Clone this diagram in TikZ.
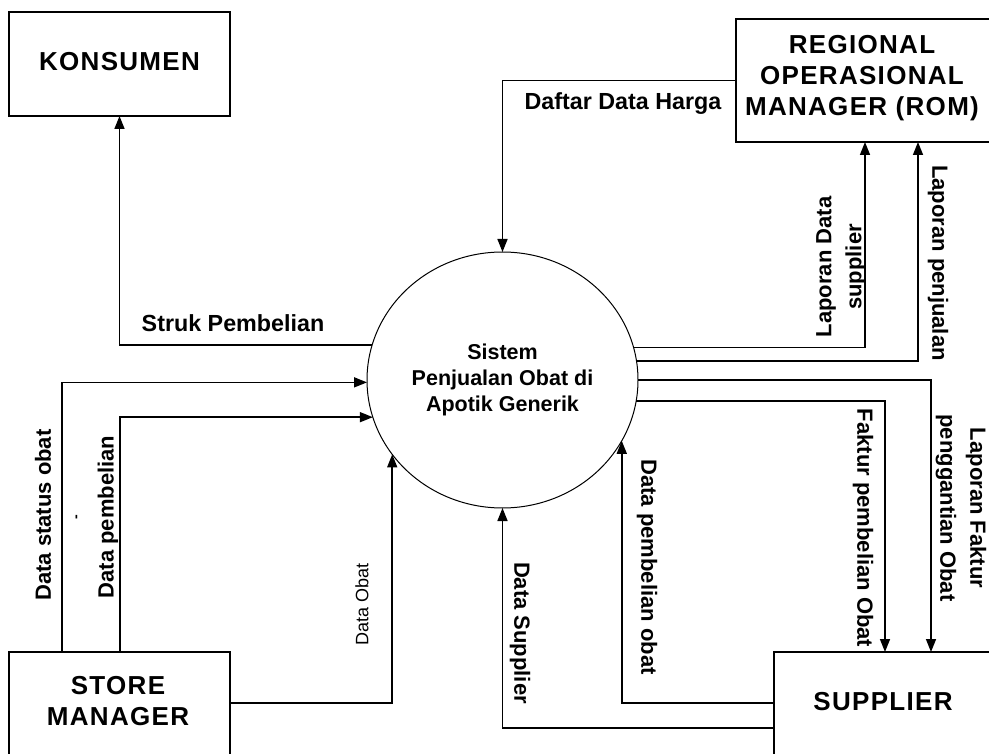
\documentclass[tikz,border=0pt]{standalone}
\usepackage{fontspec}
\setmainfont{Liberation Sans}
\newfontfamily\titlefont[LetterSpace=5]{Liberation Sans}
\usetikzlibrary{arrows.meta,shapes.geometric}

\begin{document}
\begin{tikzpicture}[x=1pt,y=-1pt,
  ent/.style={draw, line width=1.5pt, inner sep=0pt, outer sep=0pt},
  enttext/.style={font=\titlefont\bfseries\fontsize{26}{31}\selectfont, align=center, inner sep=0pt},
  proc/.style={draw, ellipse, line width=1pt, inner sep=0pt, outer sep=0pt,
    minimum width=271pt, minimum height=256pt, align=center,
    font=\bfseries\fontsize{21.5}{26}\selectfont},
  flow/.style={line width=1.5pt, -{Triangle[length=13pt,width=10pt]}},
  lbl/.style={font=\bfseries\fontsize{22}{30}\selectfont, inner sep=0pt, align=center},
  hlbl/.style={font=\bfseries\fontsize{23.3}{28}\selectfont, inner sep=0pt},
  lblthin/.style={font=\fontsize{18}{22}\selectfont, inner sep=0pt},
]
\useasboundingbox (0,0) rectangle (989,754);
\clip (0,0) rectangle (989,754);

% external entities
\node[ent, minimum width=221pt, minimum height=104pt] (kons) at (119.5,64) {};
\node[enttext] at (119.5,62) {KONSUMEN};

\node[ent, minimum width=256pt, minimum height=123pt] (rom) at (864,80.5) {};
\node[enttext] at (862,78) {REGIONAL\\OPERASIONAL\\MANAGER (ROM)};

\node[ent, minimum width=221pt, minimum height=148pt] (sm) at (119.5,726) {};
\node[enttext] at (118,701) {STORE\\MANAGER};

\node[ent, minimum width=218pt, minimum height=148pt] (sup) at (883,726) {};
\node[enttext] at (883,702) {SUPPLIER};

% process
\node[proc] (sys) at (502.5,380) {Sistem\\Penjualan Obat di\\Apotik Generik};

% data flows
\draw[flow] (sys.165.5) -| (kons.south);
\draw[flow] (rom.west) -| (sys.north);
\draw[flow] (sys.14.6) -| ([xshift=129pt]rom.south west);
\draw[flow] (sys.8.5) -| ([xshift=182pt]rom.south west);
\draw[flow] (sys.-0.9) -| ([xshift=157pt]sup.north west);
\draw[flow] (sys.-9.8) -| ([xshift=111pt]sup.north west);
\draw[flow] ([yshift=23pt]sup.west) -| (sys.-27.6);
\draw[flow] ([yshift=-2pt]sup.west) -| (sys.south);
\draw[flow] ([xshift=53pt]sm.north west) |- (sys.181);
\draw[flow] ([xshift=111pt]sm.north west) |- (sys.196.4);
\draw[flow] ([yshift=23pt]sm.east) -| (sys.-146.2);

% flow labels
\node[hlbl] (l1) at (233,323) {Struk Pembelian};
\node[hlbl] (l2) at (623,104) {Daftar Data Harga};
\node[lbl, rotate=90] (l3) at (841,267) {Laporan Data\\supplier};
\node[lbl, rotate=-90] (l4) at (938,263) {Laporan penjualan};
\node[lbl, rotate=-90] (l5) at (961,508) {Laporan Faktur\\penggantian Obat};
\node[lbl, rotate=-90] (l6) at (863,528) {Faktur pembelian Obat};
\node[lbl, rotate=-90] (l7) at (647,567) {Data pembelian obat};
\node[lbl, rotate=-90] (l8) at (520,633) {Data Supplier};
\node[lbl, rotate=90] (l9) at (43,515) {Data status obat};
\node[lbl, rotate=90, font=\bfseries\fontsize{14}{16}\selectfont] (l10) at (78,517) {-};
\node[lbl, rotate=90] (l11) at (108,517) {Data pembelian};
\node[lblthin, rotate=90] (l12) at (362,604) {Data Obat};
\end{tikzpicture}
\end{document}
